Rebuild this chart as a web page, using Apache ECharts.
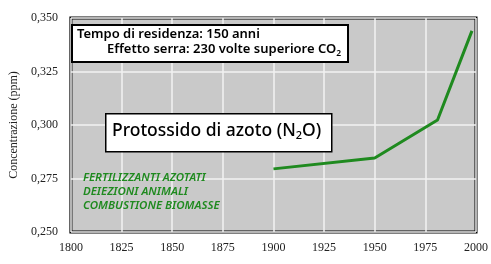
<!DOCTYPE html>
<html>
<head>
<meta charset="utf-8">
<script src="https://cdn.jsdelivr.net/npm/echarts@6/dist/echarts.min.js"></script>
<style>html,body{margin:0;padding:0;background:#fff;}#c{width:491px;height:264px;}</style>
</head>
<body>
<div id="c"></div>
<script>
const years = [1900, 1950, 1981, 1998];
const values = [0.2795, 0.2846, 0.3023, 0.3440];
const xTicks = [1800, 1825, 1850, 1875, 1900, 1925, 1950, 1975, 2000];
const yTicks = [0.250, 0.275, 0.300, 0.325, 0.350];
const yName = 'Concentrazione (ppm)';
const infoLines = ['Tempo di residenza: 150 anni', 'Effetto serra: 230 volte superiore CO'];
const titleText = 'Protossido di azoto (N';
const sources = ['FERTILIZZANTI AZOTATI', 'DEIEZIONI ANIMALI', 'COMBUSTIONE BIOMASSE'];

const serif = '"Liberation Serif", "DejaVu Serif", serif';
const comic = '"Noto Sans", "DejaVu Sans", sans-serif';
const green = '#1f8a1f';

const chart = echarts.init(document.getElementById('c'));
chart.setOption({
  animation: false,
  backgroundColor: '#ffffff',
  grid: {left: 66, right: 14, top: 18, bottom: 32, show: true,
         backgroundColor: '#c9c9c9', borderColor: '#000', borderWidth: 3},
  xAxis: {type: 'value', min: xTicks[0], max: xTicks[xTicks.length-1], interval: 25,
    axisLine: {show: false}, axisTick: {show: false},
    axisLabel: {color: '#222', fontFamily: serif, fontSize: 12, margin: 10,
      formatter: v => String(v)},
    splitLine: {show: true, lineStyle: {color: '#f2f2f2', width: 1.5}}},
  yAxis: {type: 'value', min: yTicks[0], max: yTicks[yTicks.length-1], interval: 0.025,
    name: yName, nameLocation: 'middle', nameGap: 50, nameRotate: 90,
    nameTextStyle: {color: '#222', fontFamily: serif, fontSize: 12},
    axisLine: {show: false}, axisTick: {show: false},
    axisLabel: {color: '#222', fontFamily: serif, fontSize: 12, margin: 13,
      formatter: v => v.toFixed(3).replace('.', ',')},
    splitLine: {show: true, lineStyle: {color: '#f2f2f2', width: 1.5}}},
  series: [{type: 'line', data: years.map((y, i) => [y, values[i]]),
    symbol: 'none', lineStyle: {color: green, width: 3}}],
  graphic: [
    {type: 'rect', z: 100, left: 71, top: 24, shape: {width: 276, height: 37},
     style: {fill: '#fff', stroke: '#000', lineWidth: 2}},
    {type: 'text', z: 101, left: 77, top: 28,
     style: {text: infoLines[0], fill: '#000', font: '600 13px ' + comic}},
    {type: 'text', z: 101, left: 107, top: 43,
     style: {text: '{a|' + infoLines[1] + '}{s|2}', rich: {
       a: {fill: '#000', font: '600 13px ' + comic},
       s: {fill: '#000', font: '600 8.5px ' + comic, padding: [8, 0, 0, 0]}}}},
    {type: 'rect', z: 100, left: 105, top: 113, shape: {width: 226, height: 38},
     style: {fill: '#fff', stroke: '#000', lineWidth: 1.5}},
    {type: 'text', z: 101, left: 112, top: 122,
     style: {text: '{a|' + titleText + '}{s|2}{a|O)}', rich: {
       a: {fill: '#000', font: '500 17.5px ' + comic},
       s: {fill: '#000', font: '500 11px ' + comic, padding: [10, 0, 0, 0]}}}},
    {type: 'text', z: 101, left: 83, top: 171,
     style: {text: sources.join('\n'), fill: green, lineHeight: 14,
       font: 'italic 600 11.5px ' + comic}}
  ]
});
</script>
</body>
</html>
